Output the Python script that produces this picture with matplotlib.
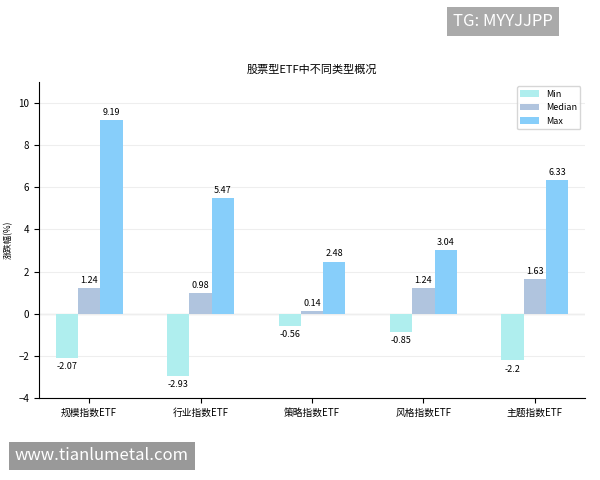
import matplotlib
matplotlib.use("Agg")
import matplotlib.pyplot as plt
import numpy as np

plt.rcParams['font.family'] = ['Noto Sans CJK SC', 'DejaVu Sans']

categories = ['规模指数ETF', '行业指数ETF', '策略指数ETF', '风格指数ETF', '主题指数ETF']
mins = [-2.07, -2.93, -0.56, -0.85, -2.2]
medians = [1.24, 0.98, 0.14, 1.24, 1.63]
maxs = [9.19, 5.47, 2.48, 3.04, 6.33]
series = [('Min', mins, '#AFEEEE'), ('Median', medians, '#B0C4DE'), ('Max', maxs, '#87CEFA')]

fig = plt.figure(figsize=(6, 4.8), dpi=100)
ax = fig.add_axes([0.065, 0.17, 0.91, 0.66])
x = np.arange(len(categories))
w = 0.2
for i, (name, vals, col) in enumerate(series):
    pos = x + (i - 1) * w
    ax.bar(pos, vals, w, color=col, label=name, zorder=2)
    for p, v in zip(pos, vals):
        off = 0.15 if v >= 0 else -0.2
        ax.text(p, v + off, f'{v:g}', ha='center', va='bottom' if v >= 0 else 'top', fontsize=6.5)
ax.set_xlim(-0.45, 4.45)
ax.set_ylim(-4, 11)
ax.set_yticks(range(-4, 11, 2))
ax.set_xticks(x)
ax.set_xticklabels(categories, fontsize=7)
ax.tick_params(labelsize=7)
ax.set_ylabel('涨跌幅(%)', fontsize=6)
ax.set_title('股票型ETF中不同类型概况', fontsize=8)
ax.grid(axis='y', color='#eeeeee', zorder=0)
ax.axhline(0, color='#999999', lw=0.8, zorder=1)
for s in ['top', 'right']:
    ax.spines[s].set_visible(False)
ax.legend(loc='upper right', fontsize=6.5)
fig.text(0.755, 0.955, 'TG: MYYJJPP', fontsize=12, color='white', va='center',
         bbox=dict(boxstyle='square,pad=0.35', fc='#aaaaaa', ec='none'))
fig.text(0.025, 0.05, 'www.tianlumetal.com', fontsize=12, color='white', va='center',
         bbox=dict(boxstyle='square,pad=0.35', fc='#999999', ec='none'))
fig.savefig('out.png', dpi=100)
